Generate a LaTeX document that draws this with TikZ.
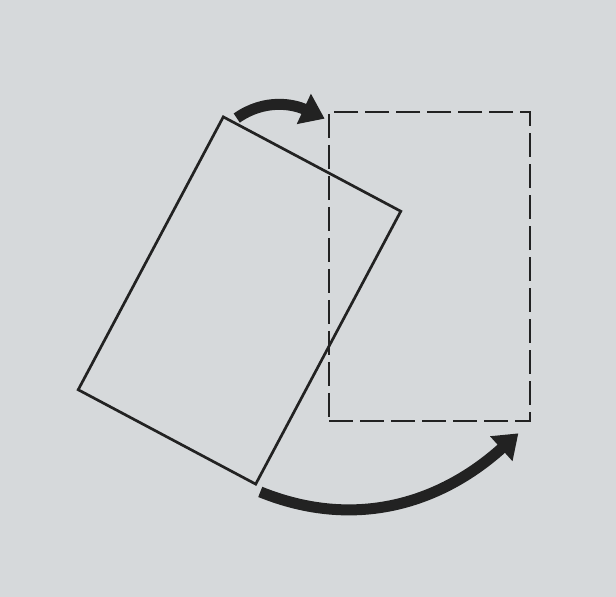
\documentclass[tikz,border=0pt]{standalone}
\usetikzlibrary{arrows.meta, positioning}
\definecolor{cpaper}{HTML}{D6D9DB}
\definecolor{cink}{HTML}{222222}
\tikzset{
  every picture/.style={x=1pt, y=1pt},
  sheet/.style={draw=cink, line width=2.7pt, minimum width=201pt, minimum height=309pt, inner sep=0pt},
  ghost/.style={sheet, dash pattern=on 24pt off 7pt},
  bigarrow/.style={-{Triangle[length=23pt, width=32pt]}, draw=cink, line width=11pt},
}

\begin{document}
\begin{tikzpicture}
  \fill[cpaper] (0,0) rectangle (616,597);
  \useasboundingbox (0,0) rectangle (616,597);
  % turned sheet and its target place
  \node[sheet, rotate=-28] (old) at (239.5,296.5) {};
  \node[ghost] (new) at (429.5,330.5) {};
  % arrow ends
  \coordinate (topfrom) at ([xshift=14pt, yshift=-3pt]old.north west);
  \coordinate (topto) at ([xshift=-3pt, yshift=-8pt]new.north west);
  \coordinate (botfrom) at ([xshift=4pt, yshift=-6pt]old.south east);
  \coordinate (botto) at ([xshift=-13pt, yshift=-11pt]new.south east);
  \draw[bigarrow] (topfrom) to[out=35, in=155] (topto);
  \draw[bigarrow] (botfrom) to[out=-22, in=222] (botto);
\end{tikzpicture}
\end{document}
